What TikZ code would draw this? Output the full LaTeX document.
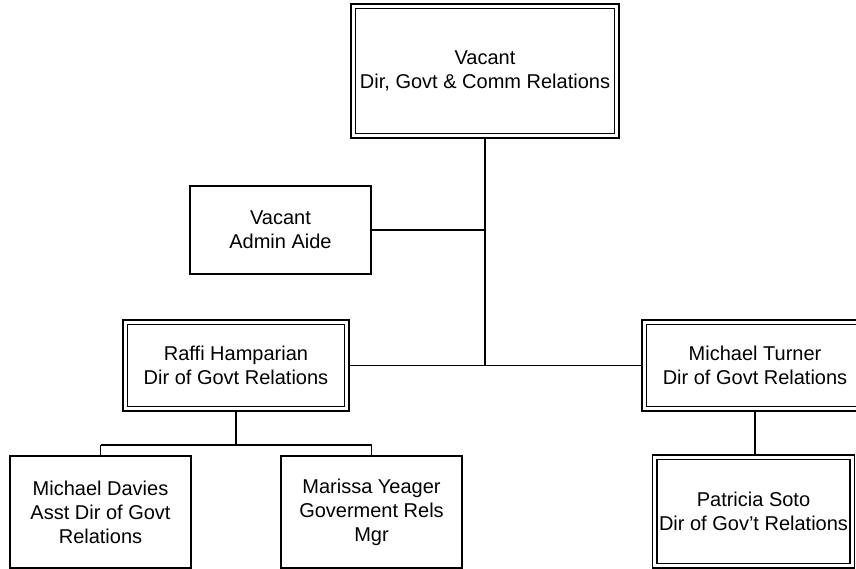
\documentclass[tikz,border=0pt]{standalone}
\usepackage{fontspec}
\setmainfont{Liberation Sans}
\begin{document}
\begin{tikzpicture}[x=1pt,y=-1pt,
  base/.style={rectangle, draw=black, fill=white, inner sep=0pt, align=center,
    font=\fontsize{20}{24}\selectfont},
  single/.style={base, line width=1.3pt},
  dbl/.style={base, line width=1.5pt, double=white, double distance=3pt, outer sep=3pt},
  wire/.style={draw=black, line width=1.5pt}]
\useasboundingbox (0,0) rectangle (856,569);
% nodes
\node[dbl, minimum width=263.5pt, minimum height=129.5pt] (top) at (485,71) {Vacant\\Dir, Govt \& Comm Relations};
\node[single, minimum width=181pt, minimum height=88pt] (admin) at (280.5,230) {Vacant\\Admin Aide};
\node[dbl, minimum width=221.5pt, minimum height=86.5pt] (raffi) at (236,365.5) {Raffi Hamparian\\Dir of Govt Relations};
\node[dbl, minimum width=221.5pt, minimum height=86.5pt] (turner) at (755,365.5) {Michael Turner\\Dir of Govt Relations};
\node[single, minimum width=181pt, minimum height=112pt] (davies) at (100.5,512) {Michael Davies\\Asst Dir of Govt\\Relations};
\node[single, minimum width=181pt, minimum height=112pt] (yeager) at (371.5,512) {Marissa Yeager\\Goverment Rels\\Mgr};
\node[dbl, minimum width=197.5pt, minimum height=108.5pt] (soto) at (753.5,511.5) {Patricia Soto\\Dir of Gov’t Relations};
% junctions
\coordinate (jt) at (485,365.5);
\coordinate (ja) at (485,230);
\coordinate (jb) at (236,445);
\coordinate (jd) at (100.5,445);
\coordinate (jy) at (371.5,445);
% connectors
\draw[wire] (top.south) -- (jt);
\draw[wire] (admin.east) -- (ja);
\draw[wire] (raffi.east) -- (jt) -- (turner.west);
\draw[wire] (raffi.south) -- (jb);
\draw[wire] (jd) -- (jy);
\draw[wire] (jd) -- (davies.north);
\draw[wire] (jy) -- (yeager.north);
\draw[wire] (turner.south) -- (turner.south |- soto.north);
\end{tikzpicture}
\end{document}
